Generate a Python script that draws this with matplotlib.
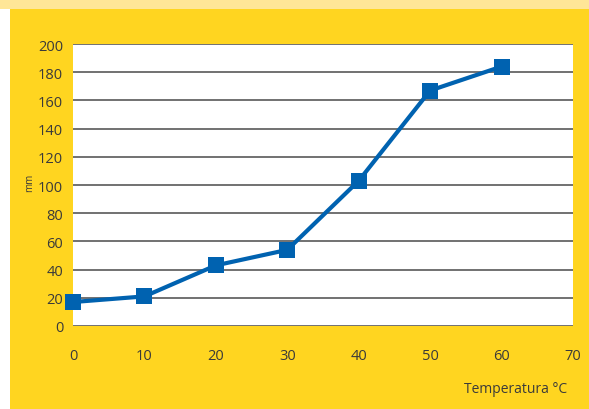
import matplotlib
matplotlib.use("Agg")
import matplotlib.pyplot as plt
from matplotlib.patches import Rectangle

plt.rcParams['font.family'] = ['Open Sans', 'DejaVu Sans']

temperatura = [0, 10, 20, 30, 40, 50, 60]
mm = [17, 21, 43, 54, 103, 167, 184]
x_ticks = [0, 10, 20, 30, 40, 50, 60, 70]
y_ticks = [0, 20, 40, 60, 80, 100, 120, 140, 160, 180, 200]

yellow = '#FFD520'
blue = '#0062B0'
text_col = '#3a3a3a'

fig = plt.figure(figsize=(5.89, 4.10), dpi=100)
fig.patch.set_facecolor(yellow)
# white strip on the left, pale band along the top
fig.patches.append(Rectangle((0, 0), 10 / 589, 1, transform=fig.transFigure,
                             facecolor='white', edgecolor='none', zorder=0))
fig.patches.append(Rectangle((0, 400 / 410), 1, 10 / 410, transform=fig.transFigure,
                             facecolor='#FFE697', edgecolor='none', zorder=0))

ax = fig.add_axes([73 / 589, 83 / 410, 500 / 589, 282 / 410])
ax.set_facecolor('white')
ax.plot(temperatura, mm, color=blue, lw=3, marker='s', ms=11.5,
        markeredgewidth=0, zorder=3, clip_on=False)

ax.set_xlim(0, 70)
ax.set_ylim(0, 200)
ax.set_xticks(x_ticks)
ax.set_yticks(y_ticks)
ax.yaxis.grid(True, color='#4a4a4a', lw=1.1)
ax.set_axisbelow(True)
for s in ax.spines.values():
    s.set_visible(False)
ax.tick_params(axis='both', length=0, labelsize=10.5, labelcolor=text_col)
ax.tick_params(axis='x', pad=16)
ax.tick_params(axis='y', pad=7)

fig.text(30 / 589, 1 - 183 / 410, 'mm', rotation=90, fontsize=7,
         color=text_col, ha='center', va='center')
fig.text(567 / 589, 1 - 390 / 410, 'Temperatura °C', fontsize=10,
         color=text_col, ha='right', va='center')

fig.savefig('out.png', dpi=100, facecolor=fig.get_facecolor())
